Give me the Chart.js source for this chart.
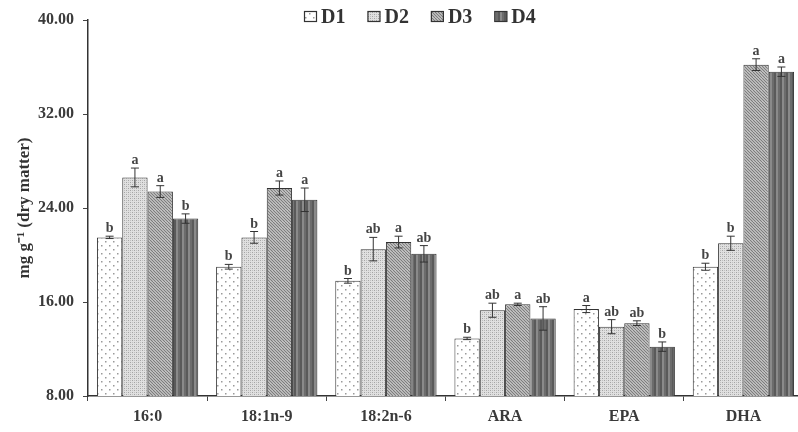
<!DOCTYPE html>
<html><head><meta charset="utf-8">
<script src="https://cdn.jsdelivr.net/npm/chart.js@4.4.0/dist/chart.umd.min.js"></script>
<style>html,body{margin:0;padding:0;background:#fff;overflow:hidden;}
#wrap{width:806px;height:432px;position:relative;}
</style></head><body>
<div id="wrap"><canvas id="c" width="806" height="432"></canvas></div>
<script>
const categories = ['16:0', '18:1n-9', '18:2n-6', 'ARA', 'EPA', 'DHA'];
const seriesNames = ['D1', 'D2', 'D3', 'D4'];
const d1 = [21.5, 19.0, 17.8, 12.9, 15.4, 19.0];
const d2 = [26.6, 21.5, 20.5, 15.3, 13.9, 21.0];
const d3 = [25.4, 25.7, 21.1, 15.8, 14.2, 36.2];
const d4 = [23.1, 24.7, 20.1, 14.6, 12.2, 35.6];
const e1 = [0.1, 0.2, 0.2, 0.1, 0.3, 0.3];
const e2 = [0.8, 0.5, 1.0, 0.6, 0.6, 0.6];
const e3 = [0.5, 0.6, 0.5, 0.1, 0.2, 0.5];
const e4 = [0.4, 1.0, 0.7, 1.0, 0.4, 0.4];
const l1 = ['b', 'b', 'b', 'b', 'a', 'b'];
const l2 = ['a', 'b', 'ab', 'ab', 'ab', 'b'];
const l3 = ['a', 'a', 'a', 'a', 'ab', 'a'];
const l4 = ['b', 'a', 'ab', 'ab', 'b', 'a'];
const yTicks = [8, 16, 24, 32, 40];
const yTitle = 'mg g\u207B\u00B9 (dry matter)';

const values = [d1, d2, d3, d4];
const errors = [e1, e2, e3, e4];
const letters = [l1, l2, l3, l4];

const SERIF = "'Liberation Serif', 'Times New Roman', serif";

function makePattern(w, h, draw) {
  const c = document.createElement('canvas');
  c.width = w; c.height = h;
  const x = c.getContext('2d');
  draw(x, w, h);
  return x.createPattern(c, 'repeat');
}
const ctx0 = document.getElementById('c').getContext('2d');
const pD1 = makePattern(8, 8, (x) => {
  x.fillStyle = '#ffffff'; x.fillRect(0, 0, 8, 8);
  x.fillStyle = '#9a9a9a'; x.fillRect(1, 1, 1.5, 1.5); x.fillRect(5, 5, 1.5, 1.5);
});
const pD2 = makePattern(4, 4, (x) => {
  x.fillStyle = '#e0e0e0'; x.fillRect(0, 0, 4, 4);
  x.fillStyle = '#a4a4a4'; x.fillRect(0, 0, 1, 1); x.fillRect(2, 2, 1, 1);
  x.fillStyle = '#c0c0c0'; x.fillRect(2, 0, 1, 1); x.fillRect(0, 2, 1, 1);
});
const pD3 = makePattern(6, 6, (x) => {
  x.fillStyle = '#d2d2d2'; x.fillRect(0, 0, 6, 6);
  x.strokeStyle = '#7a7a7a'; x.lineWidth = 1.1;
  x.beginPath();
  for (let k = -6; k <= 12; k += 3) { x.moveTo(k, 0); x.lineTo(k + 6, 6); }
  x.stroke();
});
const pD4 = makePattern(6, 1, (x) => {
  x.fillStyle = '#5a5a5a'; x.fillRect(0, 0, 2, 1);
  x.fillStyle = '#8a8a8a'; x.fillRect(2, 0, 2, 1);
  x.fillStyle = '#6c6c6c'; x.fillRect(4, 0, 2, 1);
});
const fills = [pD1, pD2, pD3, pD4];

const errorPlugin = {
  id: 'errorBars',
  afterDatasetsDraw(chart) {
    const ctx = chart.ctx;
    const y = chart.scales.y;
    ctx.save();
    chart.data.datasets.forEach((ds, i) => {
      const meta = chart.getDatasetMeta(i);
      meta.data.forEach((bar, j) => {
        const v = values[i][j], e = errors[i][j];
        const top = y.getPixelForValue(v + e);
        const bot = y.getPixelForValue(v - e);
        ctx.strokeStyle = '#333';
        ctx.lineWidth = 1;
        ctx.beginPath();
        ctx.moveTo(bar.x, top); ctx.lineTo(bar.x, bot);
        ctx.moveTo(bar.x - 4, top); ctx.lineTo(bar.x + 4, top);
        ctx.moveTo(bar.x - 4, bot); ctx.lineTo(bar.x + 4, bot);
        ctx.stroke();
        ctx.fillStyle = '#444';
        ctx.font = 'bold 14px ' + SERIF;
        ctx.textAlign = 'center';
        ctx.textBaseline = 'alphabetic';
        ctx.fillText(letters[i][j], bar.x, top - 4);
      });
    });
    ctx.restore();
  }
};

const legendPlugin = {
  id: 'customLegend',
  afterDraw(chart) {
    const ctx = chart.ctx;
    ctx.save();
    ctx.font = 'bold 20px ' + SERIF;
    ctx.textBaseline = 'middle';
    ctx.textAlign = 'left';
    let x = 304;
    const yc = 17;
    seriesNames.forEach((name, i) => {
      ctx.fillStyle = fills[i];
      ctx.fillRect(x, yc - 6, 13, 11);
      ctx.strokeStyle = '#333';
      ctx.lineWidth = 1.2;
      ctx.strokeRect(x + 0.5, yc - 5.5, 12, 10);
      ctx.fillStyle = '#333';
      ctx.fillText(name, x + 17, yc + 1);
      x += 17 + ctx.measureText(name).width + 22;
    });
    ctx.restore();
  }
};

new Chart(ctx0, {
  type: 'bar',
  data: {
    labels: categories,
    datasets: seriesNames.map((n, i) => ({
      label: n,
      data: values[i],
      backgroundColor: fills[i],
      borderColor: '#333',
      borderWidth: 1,
      categoryPercentage: 0.85,
      barPercentage: 1.0
    }))
  },
  options: {
    responsive: false,
    animation: false,
    layout: { padding: { top: 20, right: 3, left: 0, bottom: 0 } },
    plugins: { legend: { display: false }, tooltip: { enabled: false } },
    scales: {
      x: {
        offset: true,
        grid: { offset: true, drawOnChartArea: false, drawTicks: true, tickLength: 5, color: '#444' },
        border: { color: '#333', width: 1.5 },
        ticks: { font: { family: SERIF, size: 16, weight: 'bold' }, color: '#3a3a3a', padding: 6 },
        afterFit: (s) => { s.height = 36; }
      },
      y: {
        min: 8, max: 40,
        afterBuildTicks: (s) => { s.ticks = yTicks.map(v => ({ value: v })); },
        grid: { drawOnChartArea: false, drawTicks: true, tickLength: 5, color: '#444' },
        border: { color: '#333', width: 1.5 },
        ticks: { callback: (v) => Number(v).toFixed(2), font: { family: SERIF, size: 16, weight: 'bold' }, color: '#3a3a3a', padding: 9 },
        title: { display: true, text: yTitle, font: { family: SERIF, size: 17, weight: 'bold' }, color: '#333', padding: { top: 14, bottom: 0 } },
        afterFit: (s) => { s.width = 88; }
      }
    }
  },
  plugins: [errorPlugin, legendPlugin]
});
</script>
</body></html>
